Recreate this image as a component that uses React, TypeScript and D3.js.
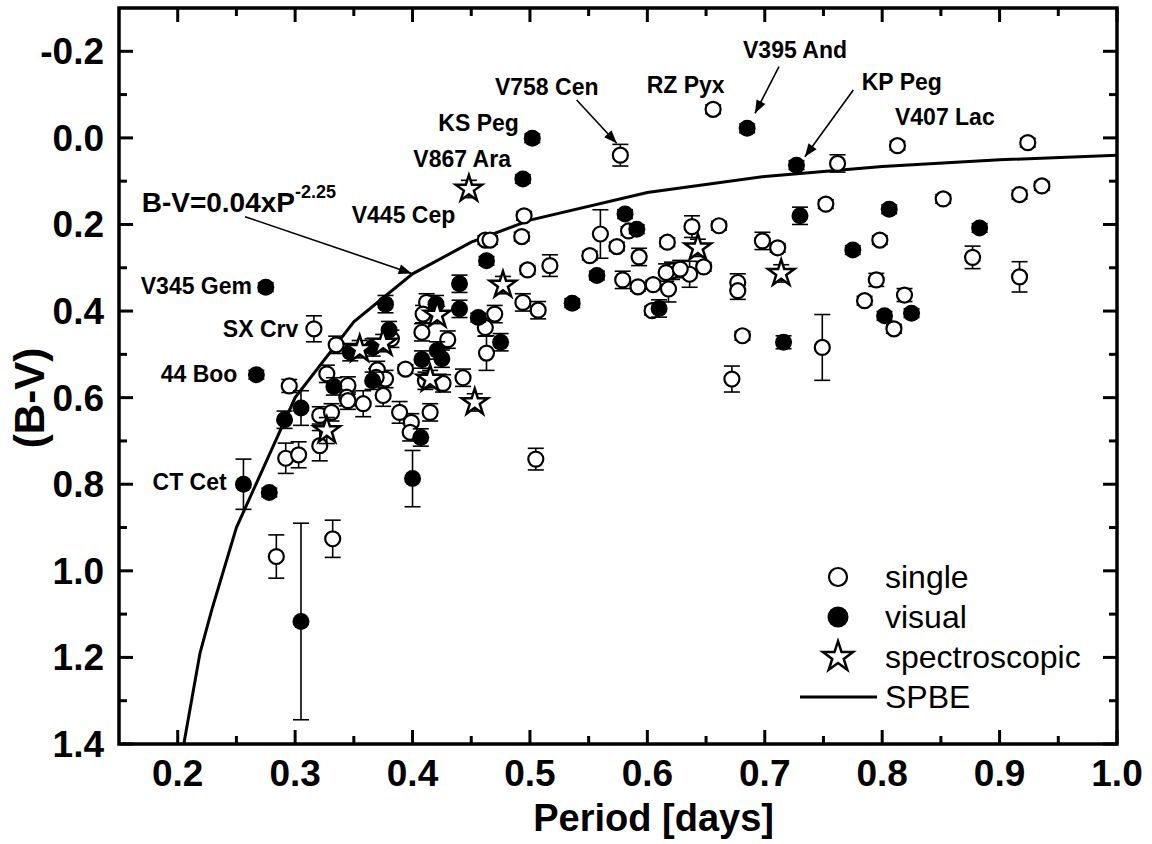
import * as d3 from "d3";

const W = 1152;
const H = 844;
const plot = { left: 119, right: 1117, top: 8, bottom: 744 };
const FONT = "'Liberation Sans', Arial, Helvetica, sans-serif";

// axis ticks
const xMajor = [0.2, 0.3, 0.4, 0.5, 0.6, 0.7, 0.8, 0.9, 1.0];
const xMinor = [0.25, 0.35, 0.45, 0.55, 0.65, 0.75, 0.85, 0.95];
const yMajor = [-0.2, 0.0, 0.2, 0.4, 0.6, 0.8, 1.0, 1.2, 1.4];
const yMinor = [-0.1, 0.1, 0.3, 0.5, 0.7, 0.9, 1.1, 1.3];

// single stars (open circles)
const singleP = [
  0.316, 0.295, 0.292, 0.303, 0.327, 0.335, 0.321, 0.331, 0.321, 0.284,
  0.332, 0.345, 0.344, 0.358, 0.370, 0.377, 0.375, 0.389, 0.399, 0.398,
  0.415, 0.394, 0.408, 0.412, 0.409, 0.430, 0.411, 0.426, 0.443, 0.462,
  0.470, 0.463, 0.462, 0.466, 0.493, 0.495, 0.498, 0.517, 0.494, 0.507,
  0.505, 0.551, 0.560, 0.577, 0.584, 0.574, 0.593, 0.617, 0.638, 0.661,
  0.648, 0.636, 0.621, 0.616, 0.628, 0.618, 0.605, 0.592, 0.579, 0.604,
  0.677, 0.677, 0.698, 0.711, 0.681, 0.672, 0.656, 0.762, 0.813, 0.924,
  0.752, 0.852, 0.917, 0.936, 0.798, 0.877, 0.917, 0.795, 0.785, 0.819,
  0.810, 0.749, 0.369, 0.345, 0.382,
];
const singleBV = [
  0.441, 0.573, 0.740, 0.732, 0.545, 0.478, 0.641, 0.634, 0.711, 0.967,
  0.926, 0.572, 0.599, 0.614, 0.536, 0.557, 0.595, 0.634, 0.657, 0.680,
  0.634, 0.534, 0.449, 0.380, 0.407, 0.466, 0.561, 0.567, 0.554, 0.438,
  0.407, 0.497, 0.236, 0.236, 0.228, 0.180, 0.305, 0.295, 0.380, 0.398,
  0.742, 0.272, 0.222, 0.040, 0.215, 0.251, 0.275, 0.241, 0.205, 0.203,
  0.298, 0.315, 0.307, 0.311, 0.303, 0.349, 0.339, 0.344, 0.328, 0.399,
  0.334, 0.353, 0.238, 0.254, 0.457, 0.557, -0.066, 0.059, 0.018, 0.011,
  0.153, 0.141, 0.131, 0.111, 0.236, 0.276, 0.321, 0.328, 0.376, 0.363,
  0.441, 0.484, 0.553, 0.607, 0.464,
];
const singleErr = [
  0.03, 0.015, 0.035, 0.03, 0.02, 0.02, 0.02, 0.02, 0.035, 0.05,
  0.043, 0.02, 0.02, 0.03, 0.02, 0.02, 0.025, 0.025, 0.02, 0.02,
  0.02, 0.01, 0.02, 0.02, 0.02, 0.02, 0.02, 0.02, 0.02, 0.02,
  0.02, 0.04, 0.01, 0.01, 0.01, 0.01, 0.01, 0.025, 0.02, 0.02,
  0.025, 0.01, 0.056, 0.025, 0.01, 0.01, 0.02, 0.01, 0.025, 0.01,
  0.01, 0.03, 0.02, 0.02, 0.02, 0.03, 0.01, 0.01, 0.02, 0.01,
  0.02, 0.02, 0.02, 0.01, 0.01, 0.03, 0.01, 0.02, 0.01, 0.01,
  0.01, 0.01, 0.01, 0.01, 0.01, 0.026, 0.035, 0.015, 0.01, 0.015,
  0.01, 0.076, 0.02, 0.02, 0.02,
];

// visual binaries (filled circles)
const visualP = [
  0.275, 0.267, 0.256, 0.278, 0.305, 0.291, 0.305, 0.333, 0.377, 0.380,
  0.366, 0.347, 0.366, 0.407, 0.400, 0.420, 0.408, 0.421, 0.425, 0.440,
  0.440, 0.456, 0.475, 0.463, 0.494, 0.502, 0.536, 0.557, 0.581, 0.591,
  0.610, 0.685, 0.727, 0.730, 0.716, 0.806, 0.775, 0.883, 0.802, 0.825,
];
const visualBV = [
  0.345, 0.547, 0.800, 0.819, 0.624, 0.651, 1.117, 0.574, 0.384, 0.444,
  0.484, 0.495, 0.561, 0.692, 0.787, 0.384, 0.512, 0.491, 0.510, 0.337,
  0.395, 0.415, 0.472, 0.284, 0.095, 0.001, 0.382, 0.318, 0.176, 0.211,
  0.394, -0.022, 0.063, 0.180, 0.472, 0.165, 0.259, 0.208, 0.411, 0.405,
];
const visualErr = [
  0.01, 0.01, 0.058, 0.01, 0.04, 0.02, 0.227, 0.02, 0.02, 0.02,
  0.02, 0.02, 0.02, 0.02, 0.065, 0.02, 0.02, 0.02, 0.02, 0.02,
  0.02, 0.01, 0.02, 0.01, 0.01, 0.01, 0.01, 0.01, 0.01, 0.01,
  0.02, 0.01, 0.01, 0.02, 0.015, 0.01, 0.01, 0.01, 0.01, 0.01,
];

// spectroscopic binaries (stars)
const spectroP = [0.448, 0.327, 0.355, 0.375, 0.421, 0.415, 0.453, 0.477, 0.643, 0.714];
const spectroBV = [0.118, 0.676, 0.488, 0.474, 0.409, 0.557, 0.611, 0.340, 0.254, 0.313];
const spectroErr = [0.02, 0.03, 0.02, 0.02, 0.02, 0.02, 0.02, 0.02, 0.02, 0.02];

// SPBE curve, B-V = 0.04 x P^-2.25, read at a few periods
const curveP = [0.2052, 0.219, 0.229, 0.25, 0.3, 0.35, 0.4, 0.45, 0.5, 0.6, 0.7, 0.8, 0.9, 1.0];
const curveBV = [1.4, 1.19, 1.09, 0.9, 0.6, 0.425, 0.314, 0.241, 0.19, 0.126, 0.0892, 0.0661, 0.0507, 0.04];

// star name labels
const labelText = [
  "V345 Gem", "SX Crv", "44 Boo", "CT Cet", "V445 Cep", "V867 Ara",
  "KS Peg", "V758 Cen", "RZ Pyx", "V395 And", "KP Peg", "V407 Lac",
];
const labelP = [0.2633, 0.3027, 0.2508, 0.2417, 0.3482, 0.4007, 0.422, 0.4702, 0.5994, 0.6815, 0.7826, 0.8109];
const labelBV = [0.342, 0.442, 0.546, 0.794, 0.178, 0.049, -0.034, -0.118, -0.122, -0.203, -0.13, -0.049];
const labelAnchor = ["end", "end", "end", "end", "start", "start", "start", "start", "start", "start", "start", "start"];

// arrows: [fromP, fromBV, toP, toBV]
const arrows = [
  [0.2573, 0.182, 0.3993, 0.313],
  [0.5398, -0.0875, 0.5739, 0.0125],
  [0.7121, -0.1644, 0.6917, -0.0568],
  [0.7754, -0.1106, 0.7342, 0.0435],
];

const legendItems = ["single", "visual", "spectroscopic", "SPBE"];

export default function App() {
  const x = d3.scaleLinear().domain([0.15, 1.0]).range([plot.left, plot.right]);
  const y = d3.scaleLinear().domain([-0.3, 1.4]).range([plot.top, plot.bottom]);

  const line = d3
    .line<number>()
    .x((_, i) => x(curveP[i]))
    .y((_, i) => y(curveBV[i]));

  const starPath = d3.symbol(d3.symbolStar, 215)()!;
  const legendStar = d3.symbol(d3.symbolStar, 280)()!;

  const errBar = (p: number, v: number, e: number, key: string) => {
    if (!e) return null;
    const cx = x(p);
    const y0 = y(v - e);
    const y1 = y(v + e);
    return (
      <g key={key} stroke="#000" strokeWidth={1.6}>
        <line x1={cx} x2={cx} y1={y0} y2={y1} />
        <line x1={cx - 8} x2={cx + 8} y1={y0} y2={y0} />
        <line x1={cx - 8} x2={cx + 8} y1={y1} y2={y1} />
      </g>
    );
  };

  const arrowHead = (x0: number, y0: number, x1: number, y1: number) => {
    const ang = Math.atan2(y1 - y0, x1 - x0);
    const len = 13;
    const wid = 5;
    const bx = x1 - len * Math.cos(ang);
    const by = y1 - len * Math.sin(ang);
    const px = -Math.sin(ang) * wid;
    const py = Math.cos(ang) * wid;
    return `M${x1},${y1}L${bx + px},${by + py}L${bx - px},${by - py}Z`;
  };

  const legendX = 838;
  const legendY = [577, 617, 657, 697];

  return (
    <svg
      width={W}
      height={H}
      style={{ position: "absolute", left: 0, top: 0, background: "#fff" }}
      fontFamily={FONT}
    >
      <rect width={W} height={H} fill="#fff" />
      <defs>
        <clipPath id="plotClip">
          <rect x={plot.left} y={plot.top} width={plot.right - plot.left} height={plot.bottom - plot.top} />
        </clipPath>
      </defs>

      {/* ticks, all four sides, pointing inward */}
      <g stroke="#000" strokeWidth={3}>
        {xMajor.map((t) => (
          <g key={"xM" + t}>
            <line x1={x(t)} x2={x(t)} y1={plot.bottom} y2={plot.bottom - 14} />
            <line x1={x(t)} x2={x(t)} y1={plot.top} y2={plot.top + 14} />
          </g>
        ))}
        {xMinor.map((t) => (
          <g key={"xm" + t}>
            <line x1={x(t)} x2={x(t)} y1={plot.bottom} y2={plot.bottom - 8} />
            <line x1={x(t)} x2={x(t)} y1={plot.top} y2={plot.top + 8} />
          </g>
        ))}
        {yMajor.map((t) => (
          <g key={"yM" + t}>
            <line x1={plot.left} x2={plot.left + 14} y1={y(t)} y2={y(t)} />
            <line x1={plot.right} x2={plot.right - 14} y1={y(t)} y2={y(t)} />
          </g>
        ))}
        {yMinor.map((t) => (
          <g key={"ym" + t}>
            <line x1={plot.left} x2={plot.left + 8} y1={y(t)} y2={y(t)} />
            <line x1={plot.right} x2={plot.right - 8} y1={y(t)} y2={y(t)} />
          </g>
        ))}
      </g>

      {/* tick labels */}
      <g fontSize={37} fontWeight="bold" fill="#000">
        {xMajor.map((t) => (
          <text key={"xl" + t} x={x(t)} y={plot.bottom + 42} textAnchor="middle">
            {t.toFixed(1)}
          </text>
        ))}
        {yMajor.map((t) => (
          <text key={"yl" + t} x={plot.left - 15} y={y(t) + 13} textAnchor="end">
            {t.toFixed(1)}
          </text>
        ))}
      </g>

      {/* axis titles */}
      <text x={774} y={831} textAnchor="end" fontSize={38} fontWeight="bold">
        Period [days]
      </text>
      <text
        transform={`translate(44, 398) rotate(-90)`}
        textAnchor="middle"
        fontSize={42}
        fontWeight="bold"
      >
        (B-V)
      </text>

      <g clipPath="url(#plotClip)">
        {/* SPBE curve */}
        <path d={line(curveP) ?? ""} fill="none" stroke="#000" strokeWidth={3} />

        {/* single */}
        {singleP.map((p, i) => errBar(p, singleBV[i], singleErr[i], "se" + i))}
        {singleP.map((p, i) => (
          <circle key={"s" + i} cx={x(p)} cy={y(singleBV[i])} r={7.5} fill="#fff" stroke="#000" strokeWidth={2.2} />
        ))}

        {/* visual */}
        {visualP.map((p, i) => errBar(p, visualBV[i], visualErr[i], "ve" + i))}
        {visualP.map((p, i) => (
          <circle key={"v" + i} cx={x(p)} cy={y(visualBV[i])} r={8.5} fill="#000" />
        ))}

        {/* spectroscopic */}
        {spectroP.map((p, i) => errBar(p, spectroBV[i], spectroErr[i], "pe" + i))}
        {spectroP.map((p, i) => (
          <path
            key={"p" + i}
            d={starPath}
            transform={`translate(${x(p)},${y(spectroBV[i])})`}
            fill="#fff"
            stroke="#000"
            strokeWidth={2.5}
            strokeLinejoin="miter"
          />
        ))}
      </g>

      {/* frame */}
      <rect
        x={plot.left}
        y={plot.top}
        width={plot.right - plot.left}
        height={plot.bottom - plot.top}
        fill="none"
        stroke="#000"
        strokeWidth={3.5}
      />

      {/* annotations */}
      <g fontSize={23} fontWeight="bold" fill="#000">
        {labelText.map((t, i) => (
          <text
            key={"lab" + i}
            x={x(labelP[i])}
            y={y(labelBV[i]) + 8}
            textAnchor={labelAnchor[i] as "start" | "end"}
          >
            {t}
          </text>
        ))}
      </g>
      <text x={x(0.1693)} y={y(0.147) + 10} fontSize={28} fontWeight="bold">
        B-V=0.04xP
        <tspan fontSize={18} dy={-14}>
          -2.25
        </tspan>
      </text>
      <g>
        {arrows.map(([p0, v0, p1, v1], i) => {
          const x0 = x(p0), y0 = y(v0), x1 = x(p1), y1 = y(v1);
          return (
            <g key={"ar" + i}>
              <line x1={x0} y1={y0} x2={x1} y2={y1} stroke="#000" strokeWidth={1.6} />
              <path d={arrowHead(x0, y0, x1, y1)} fill="#000" />
            </g>
          );
        })}
      </g>

      {/* legend */}
      <g fontSize={32} fill="#000">
        <circle cx={legendX} cy={legendY[0]} r={9} fill="#fff" stroke="#000" strokeWidth={2.2} />
        <circle cx={legendX} cy={legendY[1]} r={10.5} fill="#000" />
        <path
          d={legendStar}
          transform={`translate(${legendX},${legendY[2]})`}
          fill="#fff"
          stroke="#000"
          strokeWidth={2.5}
        />
        <line x1={800} x2={877} y1={legendY[3]} y2={legendY[3]} stroke="#000" strokeWidth={3} />
        {legendItems.map((t, i) => (
          <text key={"lg" + t} x={885} y={legendY[i] + 11}>
            {t}
          </text>
        ))}
      </g>
    </svg>
  );
}
